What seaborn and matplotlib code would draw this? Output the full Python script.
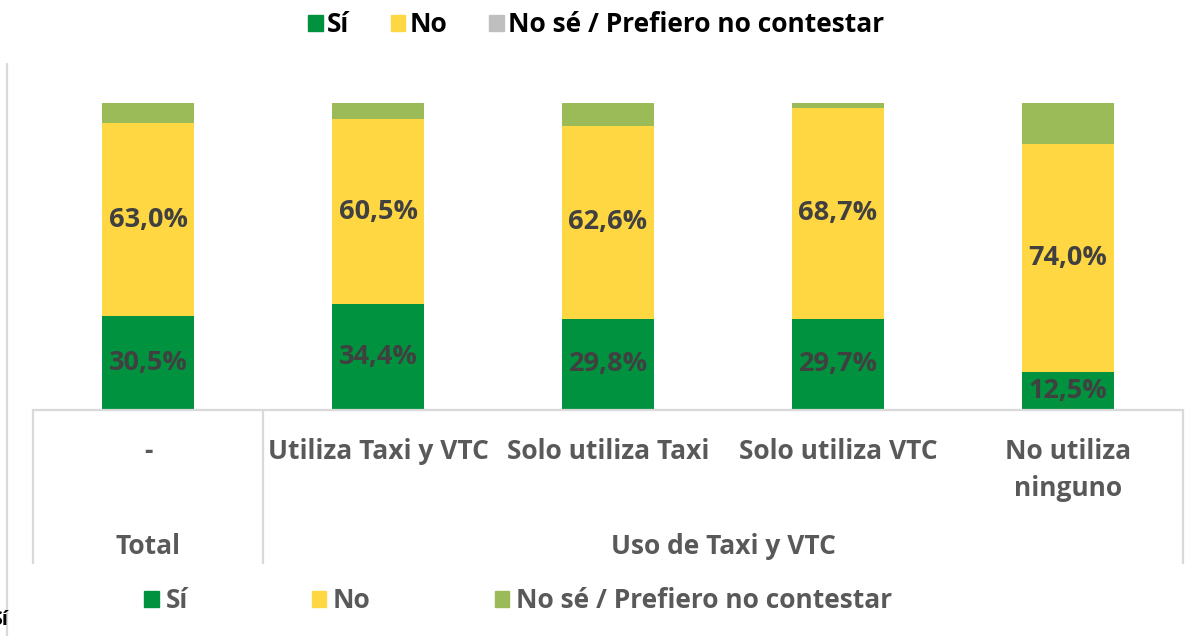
import matplotlib
matplotlib.use("Agg")
import matplotlib.pyplot as plt
import numpy as np
import pandas as pd
import seaborn as sns
from matplotlib.patches import Patch
from matplotlib.lines import Line2D

categories = ['-', 'Utiliza Taxi y VTC', 'Solo utiliza Taxi', 'Solo utiliza VTC', 'No utiliza\nninguno']
groups = ['Total', 'Uso de Taxi y VTC']
group_span = [(0, 0), (1, 4)]
si = [30.5, 34.4, 29.8, 29.7, 12.5]
no = [63.0, 60.5, 62.6, 68.7, 74.0]
ns = [6.5, 5.1, 7.6, 1.6, 13.5]
series_names = ['Sí', 'No', 'No sé / Prefiero no contestar']

GREEN = '#00923F'
YELLOW = '#FFD743'
LGREEN = '#9BBB59'
GREY = '#BFBFBF'
TXT = '#595959'
LBL = '#404040'
LINE = '#D9D9D9'

sns.set_style('white')
plt.rcParams['font.family'] = ['Open Sans', 'DejaVu Sans']
plt.rcParams['font.weight'] = 'bold'

df = pd.DataFrame({'cat': categories, 'si': si, 'no': no, 'ns': ns})
df['b_no'] = df['si']
df['b_ns'] = df['si'] + df['no']

fig = plt.figure(figsize=(11.99, 6.36), dpi=100)
ax = fig.add_axes([33 / 1199, 226 / 636, 1150 / 1199, 307 / 636])

bar_kw = dict(width=0.4, ax=ax, saturation=1, linewidth=0)
sns.barplot(data=df, x='cat', y='si', color=GREEN, **bar_kw)
sns.barplot(data=df, x='cat', y='no', bottom=df['b_no'].values, color=YELLOW, **bar_kw)
sns.barplot(data=df, x='cat', y='ns', bottom=df['b_ns'].values, color=LGREEN, **bar_kw)

# labels for Sí and No segments
for cont, vals in zip(ax.containers[:2], [si, no]):
    ax.bar_label(cont, labels=[f'{v:.1f}%'.replace('.', ',') for v in vals],
                 label_type='center', fontsize=19.5, color=LBL, fontweight='bold')

ax.set_xlim(-0.5, 4.5)
ax.set_ylim(0, 100)
ax.set_xticks([])
ax.set_yticks([])
ax.set_xlabel('')
ax.set_ylabel('')
for s in ['top', 'right', 'left']:
    ax.spines[s].set_visible(False)
ax.spines['bottom'].set_color(LINE)
ax.spines['bottom'].set_linewidth(1.6)

# table-like category axis
trans = ax.get_xaxis_transform()
for i, c in enumerate(categories):
    yy = -0.195 if '\n' in c else -0.1336
    ax.text(i, yy, c, transform=trans, ha='center', va='center', fontsize=19,
            color=TXT, fontweight='bold', linespacing=1.45)
for g, (a, b) in zip(groups, group_span):
    ax.text((a + b) / 2, -0.443, g, transform=trans, ha='center', va='center',
            fontsize=19, color=TXT, fontweight='bold')
for xv in [-0.5, 0.5, 4.5]:
    ax.plot([xv, xv], [0, -0.498], transform=trans, color=LINE, lw=1.6, clip_on=False)

# chart border on the left
fig.add_artist(Line2D([7 / 1199, 7 / 1199], [0, 1 - 64 / 636], color=LINE, lw=1.6))

top_h = [Patch(color=c) for c in [GREEN, YELLOW, GREY]]
leg1 = fig.legend(top_h, series_names, loc='center', bbox_to_anchor=(596 / 1199, 1 - 25 / 636), ncol=3,
                  frameon=False, fontsize=19, handlelength=0.55, handleheight=0.55,
                  handletextpad=0.15, columnspacing=1.6)
for t in leg1.get_texts():
    t.set_color('black')
    t.set_fontweight('bold')

bot_h = [Patch(color=c) for c in [GREEN, YELLOW, LGREEN]]
leg2 = fig.legend(bot_h, series_names, loc='center', bbox_to_anchor=(518 / 1199, 1 - 601 / 636), ncol=3,
                  frameon=False, fontsize=19, handlelength=0.55, handleheight=0.55,
                  handletextpad=0.25, columnspacing=4.7)
for t in leg2.get_texts():
    t.set_color(TXT)
    t.set_fontweight('bold')

fig.text(0.0, 1 - 620 / 636, 'Sí', ha='center', va='center', fontsize=14, color='black')

fig.savefig('out.png', dpi=100)
